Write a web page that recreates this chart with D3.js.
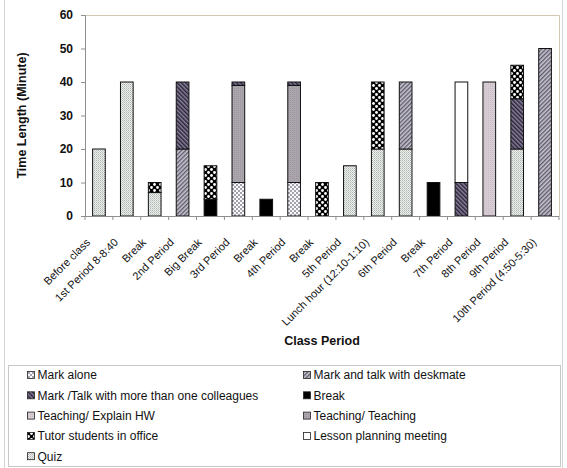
<!DOCTYPE html>
<html>
<head>
<meta charset="utf-8">
<script src="https://cdn.jsdelivr.net/npm/d3@7"></script>
<style>
  html, body { margin: 0; padding: 0; background: #fff; }
  svg { display: block; font-family: "Liberation Sans", Arial, sans-serif; }
</style>
</head>
<body>
<svg id="chart" width="567" height="468"></svg>
<script>
// Class periods along the x axis
const categories = [
  "Before class", "1st Period 8-8:40", "Break", "2nd Period", "Big Break",
  "3rd Period", "Break", "4th Period", "Break", "5th Period",
  "Lunch hour (12:10-1:10)", "6th Period", "Break", "7th Period",
  "8th Period", "9th Period", "10th Period (4:50-5:30)"
];

// Minutes spent on each activity, per class period
const quiz           = [20, 40, 7, 0, 0, 0, 0, 0, 0, 15, 20, 20, 0, 0, 0, 20, 0];
const markAlone      = [0, 0, 0, 0, 0, 10, 0, 10, 0, 0, 0, 0, 0, 0, 0, 0, 0];
const deskmate       = [0, 0, 0, 20, 0, 0, 0, 0, 0, 0, 0, 20, 0, 0, 0, 0, 50];
const breakTime      = [0, 0, 0, 0, 5, 0, 5, 0, 0, 0, 0, 0, 10, 0, 0, 0, 0];
const teaching       = [0, 0, 0, 0, 0, 29, 0, 29, 0, 0, 0, 0, 0, 0, 0, 0, 0];
const explainHW      = [0, 0, 0, 0, 0, 0, 0, 0, 0, 0, 0, 0, 0, 0, 40, 0, 0];
const markTalkMore   = [0, 0, 0, 20, 0, 1, 0, 1, 0, 0, 0, 0, 0, 10, 0, 15, 0];
const tutor          = [0, 0, 3, 0, 10, 0, 0, 0, 10, 0, 20, 0, 0, 0, 0, 10, 0];
const lessonPlanning = [0, 0, 0, 0, 0, 0, 0, 0, 0, 0, 0, 0, 0, 30, 0, 0, 0];

const yTicks = [0, 10, 20, 30, 40, 50, 60];

// Stack order, bottom to top
const seriesKeys = ["quiz", "markAlone", "deskmate", "breakTime", "teaching",
  "explainHW", "markTalkMore", "tutor", "lessonPlanning"];
const seriesValues = { quiz, markAlone, deskmate, breakTime, teaching,
  explainHW, markTalkMore, tutor, lessonPlanning };

// Legend entries, in two columns
const legendLeft = [
  ["markAlone", "Mark alone"],
  ["markTalkMore", "Mark /Talk with more than one colleagues"],
  ["explainHW", "Teaching/ Explain HW"],
  ["tutor", "Tutor students in office"],
  ["quiz", "Quiz"]
];
const legendRight = [
  ["deskmate", "Mark and talk with deskmate"],
  ["breakTime", "Break"],
  ["teaching", "Teaching/ Teaching"],
  ["lessonPlanning", "Lesson planning meeting"]
];

const svg = d3.select("#chart");
const plot = { left: 85, right: 559, top: 15, bottom: 216 };

// ---------- fill patterns ----------
const defs = svg.append("defs");
function pat(id, w, h, build, transform) {
  const p = defs.append("pattern").attr("id", id)
    .attr("patternUnits", "userSpaceOnUse").attr("width", w).attr("height", h);
  if (transform) p.attr("patternTransform", transform);
  build(p);
}
pat("p-quiz", 2, 2, p => {
  p.append("rect").attr("width", 2).attr("height", 2).attr("fill", "#eef1ee");
  p.append("rect").attr("x", 0).attr("y", 0).attr("width", 1).attr("height", 1).attr("fill", "#adb4b0");
  p.append("rect").attr("x", 1).attr("y", 1).attr("width", 1).attr("height", 1).attr("fill", "#c6cbc8");
});
pat("p-markAlone", 4, 4, p => {
  p.append("rect").attr("width", 4).attr("height", 4).attr("fill", "#fafafa");
  p.append("rect").attr("width", 2).attr("height", 2).attr("fill", "#a4a2ae");
  p.append("rect").attr("x", 2).attr("y", 2).attr("width", 2).attr("height", 2).attr("fill", "#a4a2ae");
});
pat("p-deskmate", 3, 3, p => {
  p.append("rect").attr("width", 3).attr("height", 3).attr("fill", "#cac7d2");
  p.append("rect").attr("width", 1.4).attr("height", 3).attr("fill", "#5f5b6c");
}, "rotate(45)");
pat("p-breakTime", 4, 4, p => {
  p.append("rect").attr("width", 4).attr("height", 4).attr("fill", "#000");
});
pat("p-teaching", 2, 2, p => {
  p.append("rect").attr("width", 2).attr("height", 2).attr("fill", "#aba5ad");
  p.append("rect").attr("width", 1).attr("height", 1).attr("fill", "#9c96a0");
});
pat("p-explainHW", 2, 2, p => {
  p.append("rect").attr("width", 2).attr("height", 2).attr("fill", "#d8ccd4");
  p.append("rect").attr("width", 1).attr("height", 1).attr("fill", "#c8bcc6");
});
pat("p-markTalkMore", 3, 3, p => {
  p.append("rect").attr("width", 3).attr("height", 3).attr("fill", "#8a82a0");
  p.append("rect").attr("width", 1.5).attr("height", 3).attr("fill", "#2a2434");
}, "rotate(-45)");
pat("p-tutor", 6, 6, p => {
  p.append("rect").attr("width", 6).attr("height", 6).attr("fill", "#000");
  p.append("circle").attr("cx", 1.5).attr("cy", 1.5).attr("r", 1.4).attr("fill", "#fff");
  p.append("circle").attr("cx", 4.5).attr("cy", 4.5).attr("r", 1.4).attr("fill", "#fff");
});
pat("p-lessonPlanning", 4, 4, p => {
  p.append("rect").attr("width", 4).attr("height", 4).attr("fill", "#fff");
});
const fillOf = k => `url(#p-${k})`;

// ---------- outer frame ----------
svg.append("rect").attr("x", 4.5).attr("y", -1).attr("width", 558).attr("height", 470)
  .attr("fill", "none").attr("stroke", "#d4d4d4").attr("stroke-width", 1);

// ---------- scales ----------
const x = d3.scaleBand().domain(d3.range(categories.length))
  .range([plot.left, plot.right]).paddingInner(0.545).paddingOuter(0.2725);
const y = d3.scaleLinear().domain([0, 60]).range([plot.bottom, plot.top]);

// plot area frame (top and right)
svg.append("path")
  .attr("d", `M${plot.left},${plot.top + 0.5}H${plot.right + 0.5}V${plot.bottom}`)
  .attr("fill", "none").attr("stroke", "#cfc9b4").attr("stroke-width", 1);

// ---------- bars ----------
const table = categories.map((c, i) => {
  const row = { i };
  seriesKeys.forEach(k => row[k] = seriesValues[k][i]);
  return row;
});
const stacked = d3.stack().keys(seriesKeys)(table);
const barG = svg.append("g");
stacked.forEach(layer => {
  barG.selectAll(null)
    .data(layer.filter(d => d[1] - d[0] > 0))
    .join("rect")
    .attr("x", d => x(d.data.i))
    .attr("width", x.bandwidth())
    .attr("y", d => y(d[1]))
    .attr("height", d => y(d[0]) - y(d[1]))
    .attr("fill", fillOf(layer.key))
    .attr("stroke", "#111")
    .attr("stroke-width", 1);
});

// ---------- y axis ----------
const yAxis = svg.append("g").attr("transform", `translate(${plot.left},0)`)
  .call(d3.axisLeft(y).tickValues(yTicks).tickSize(4).tickPadding(8));
yAxis.select(".domain").attr("stroke", "#8e8e8e");
yAxis.selectAll(".tick line").attr("stroke", "#8e8e8e");
yAxis.selectAll(".tick text")
  .attr("font-size", 12).attr("font-weight", "bold").attr("fill", "#111")
  .attr("font-family", "Liberation Sans, Arial, sans-serif");

// ---------- x axis ----------
const xAxisG = svg.append("g");
xAxisG.append("line")
  .attr("x1", plot.left).attr("x2", plot.right)
  .attr("y1", plot.bottom + 0.5).attr("y2", plot.bottom + 0.5)
  .attr("stroke", "#8e8e8e");
const step = x.step();
xAxisG.selectAll("line.tk")
  .data(d3.range(categories.length + 1))
  .join("line").attr("class", "tk")
  .attr("x1", i => plot.left + i * step)
  .attr("x2", i => plot.left + i * step)
  .attr("y1", plot.bottom).attr("y2", plot.bottom + 4)
  .attr("stroke", "#8e8e8e");

xAxisG.selectAll("text.cat")
  .data(categories)
  .join("text").attr("class", "cat")
  .attr("transform", (d, i) => `translate(${x(i) + x.bandwidth() / 2 - 8},${plot.bottom + 27}) rotate(-45)`)
  .attr("text-anchor", "end")
  .attr("font-size", 11)
  .attr("fill", "#111")
  .text(d => d);

// ---------- axis titles ----------
svg.append("text")
  .attr("transform", `translate(26,${(plot.top + plot.bottom) / 2}) rotate(-90)`)
  .attr("text-anchor", "middle")
  .attr("font-size", 12.5).attr("font-weight", "bold").attr("fill", "#111")
  .text("Time Length (Minute)");
svg.append("text")
  .attr("x", (plot.left + plot.right) / 2).attr("y", 345)
  .attr("text-anchor", "middle")
  .attr("font-size", 12.5).attr("font-weight", "bold").attr("fill", "#111")
  .text("Class Period");

// ---------- legend ----------
const lg = svg.append("g");
lg.append("rect").attr("x", 8.5).attr("y", 365.5).attr("width", 552).attr("height", 101)
  .attr("fill", "#fff").attr("stroke", "#c8c8c8");
function legendColumn(items, xIcon) {
  items.forEach(([k, label], r) => {
    const cy = 375 + r * 20.3;
    lg.append("rect").attr("x", xIcon).attr("y", cy - 3.5).attr("width", 7).attr("height", 7)
      .attr("fill", fillOf(k)).attr("stroke", "#222").attr("stroke-width", 0.8);
    lg.append("text").attr("x", xIcon + 10).attr("y", cy).attr("dy", "0.36em")
      .attr("font-size", 12).attr("fill", "#111").text(label);
  });
}
legendColumn(legendLeft, 27.5);
legendColumn(legendRight, 303.5);
</script>
</body>
</html>
